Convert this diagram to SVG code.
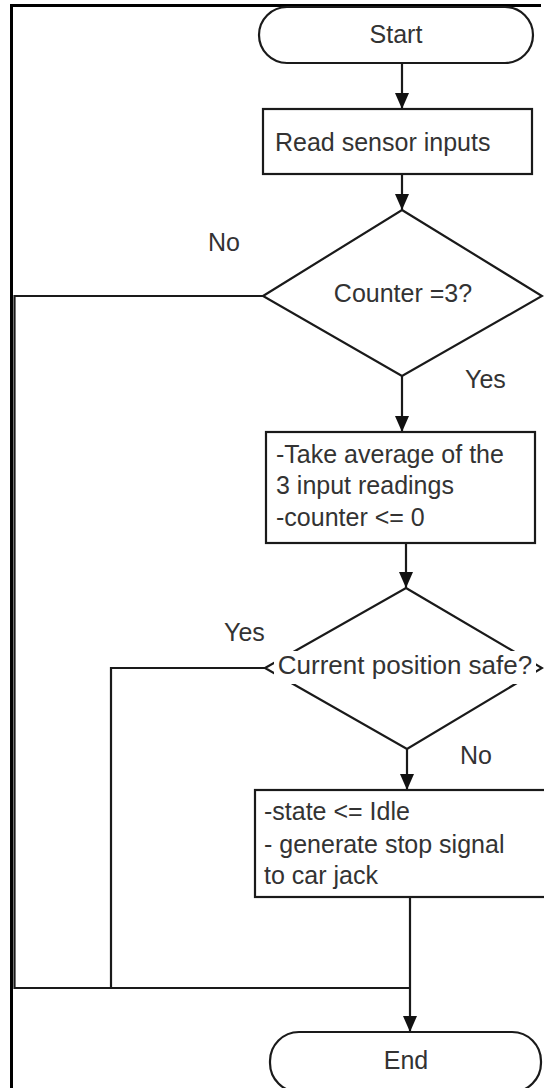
<svg xmlns="http://www.w3.org/2000/svg" width="544" height="1088" viewBox="0 0 544 1088">
  <style>
    .shape { fill: #ffffff; stroke: #1a1a1a; stroke-width: 2.2; }
    .wire { fill: none; stroke: #1a1a1a; stroke-width: 2.2; }
    .txt { font-family: "Liberation Sans", Arial, sans-serif; font-size: 25px; fill: #333333; }
    .mid { text-anchor: middle; }
  </style>
  <defs>
    <marker id="arrow" markerUnits="userSpaceOnUse" markerWidth="16" markerHeight="14" refX="16" refY="7" orient="auto">
      <path d="M0,0 L16,7 L0,14 z" fill="#111111"/>
    </marker>
  </defs>

  <rect width="544" height="1088" fill="#ffffff"/>
  <!-- page frame -->
  <path d="M11.5,1088 V5.5 H541" fill="none" stroke="#000000" stroke-width="3"/>

  <g id="connectors">
    <path class="wire" d="M402,63 V109" marker-end="url(#arrow)"/>
    <path class="wire" d="M402,174 V210" marker-end="url(#arrow)"/>
    <path class="wire" d="M402,376 V432" marker-end="url(#arrow)"/>
    <path class="wire" d="M263,296 H14.5 V988 H410"/>
    <path class="wire" d="M406,543 V588" marker-end="url(#arrow)"/>
    <path class="wire" d="M265,668 H111 V988"/>
    <path class="wire" d="M407,749 V790" marker-end="url(#arrow)"/>
    <path class="wire" d="M410,897 V1032" marker-end="url(#arrow)"/>
  </g>

  <g id="start">
    <rect class="shape" x="259" y="7" width="274" height="56" rx="28"/>
    <text class="txt mid" x="396" y="43">Start</text>
  </g>

  <g id="read-inputs">
    <rect class="shape" x="263" y="109" width="269" height="65"/>
    <text class="txt" x="275" y="151">Read sensor inputs</text>
  </g>

  <g id="check-counter">
    <polygon class="shape" points="402,210 542,296 402,376 263,296"/>
    <text class="txt mid" x="403" y="302">Counter =3?</text>
  </g>

  <g id="label-no-1">
    <text class="txt" x="208" y="251">No</text>
  </g>
  <g id="label-yes-1">
    <text class="txt" x="465" y="388">Yes</text>
  </g>

  <g id="average">
    <rect class="shape" x="266" y="432" width="269" height="111"/>
    <text class="txt" x="276" y="463">-Take average of the</text>
    <text class="txt" x="276" y="494">3 input readings</text>
    <text class="txt" x="276" y="526">-counter &lt;= 0</text>
  </g>

  <g id="check-position">
    <polygon class="shape" points="406,588 542,668 407,749 265,668"/>
    <!-- text backing hides the middle of the diamond edges -->
    <rect x="274" y="651" width="262" height="33" fill="#ffffff"/>
    <text class="txt mid" x="405" y="674" style="font-size:26px">Current position safe?</text>
  </g>

  <g id="label-yes-2">
    <text class="txt" x="224" y="641">Yes</text>
  </g>
  <g id="label-no-2">
    <text class="txt" x="460" y="764">No</text>
  </g>

  <g id="stop">
    <rect class="shape" x="255" y="790" width="300" height="107"/>
    <text class="txt" x="264" y="820">-state &lt;= Idle</text>
    <text class="txt" x="264" y="853">- generate stop signal</text>
    <text class="txt" x="264" y="884">to car jack</text>
  </g>

  <g id="end">
    <rect class="shape" x="270" y="1032" width="271" height="60" rx="29"/>
    <text class="txt mid" x="406" y="1069">End</text>
  </g>
</svg>
